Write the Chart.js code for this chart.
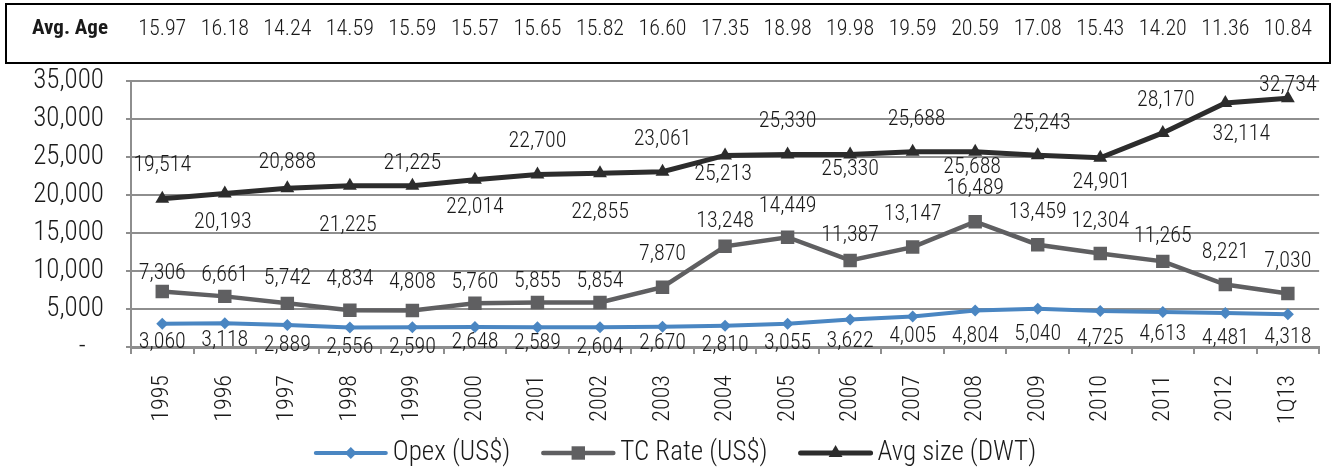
<!DOCTYPE html>
<html>
<head>
<meta charset="utf-8">
<script src="https://cdn.jsdelivr.net/npm/chart.js@4.4.1/dist/chart.umd.min.js"></script>
<style>
  html, body { margin: 0; padding: 0; background: #ffffff; }
  #wrap { width: 1338px; height: 470px; position: relative; }
</style>
</head>
<body>
<div id="wrap"><canvas id="chart" width="1338" height="470"></canvas></div>
<script>
// Period labels along the x axis
const periods = ['1995','1996','1997','1998','1999','2000','2001','2002','2003','2004',
                 '2005','2006','2007','2008','2009','2010','2011','2012','1Q13'];

// Operating expense per day (US$)
const opex = [3060, 3118, 2889, 2556, 2590, 2648, 2589, 2604, 2670, 2810,
              3055, 3622, 4005, 4804, 5040, 4725, 4613, 4481, 4318];

// Time-charter rate per day (US$)
const tcRate = [7306, 6661, 5742, 4834, 4808, 5760, 5855, 5854, 7870, 13248,
                14449, 11387, 13147, 16489, 13459, 12304, 11265, 8221, 7030];

// Average vessel size (DWT)
const avgSize = [19514, 20193, 20888, 21225, 21225, 22014, 22700, 22855, 23061, 25213,
                 25330, 25330, 25688, 25688, 25243, 24901, 28170, 32114, 32734];

// Average fleet age (years), shown in the header row
const avgAge = [15.97, 16.18, 14.24, 14.59, 15.59, 15.57, 15.65, 15.82, 16.60, 17.35,
                18.98, 19.98, 19.59, 20.59, 17.08, 15.43, 14.20, 11.36, 10.84];

// Y axis range
const yMin = 0, yMax = 35000, yStep = 5000;

// Vertical placement of each value label relative to its point (px)
const opexLabelDy = [19, 17, 20, 20, 20, 16, 16, 20, 17, 20, 20, 22, 20, 26, 26, 27, 23, 26, 23];
const tcLabelDy   = [-18, -21, -25, -31, -28, -21, -21, -21, -33, -25, -31, -25, -33, -33, -32, -32, -25, -32, -32];
const avgLabelDy  = [-33, 29, -26, 40, -22, 28, -33, 39, -32, 19, -33, 15, -32, 16, -32, 25, -32, 32, -13];
const avgLabelDx  = [0, -2, 0, -2, 0, 0, 0, 0, 0, -2, 0, 0, 4, -3, 4, 1, 3, 16, 0];

const FONT = '"Liberation Sans Narrow", "Arial Narrow", "Roboto Condensed", Arial, sans-serif';
const GRID = '#8e8e8e';
const TEXT = '#1a1a1a';

Chart.defaults.font.family = FONT;
Chart.defaults.font.weight = '300';
Chart.defaults.color = TEXT;

const fmt = v => v.toLocaleString('en-US');

// Value labels next to every point
const valueLabels = {
  id: 'valueLabels',
  afterDatasetsDraw(chart) {
    const ctx = chart.ctx;
    ctx.save();
    ctx.font = '300 22px ' + FONT;
    ctx.fillStyle = TEXT;
    ctx.textAlign = 'center';
    ctx.textBaseline = 'middle';
    chart.data.datasets.forEach((ds, i) => {
      const meta = chart.getDatasetMeta(i);
      meta.data.forEach((pt, j) => {
        const dy = ds.labelDy ? ds.labelDy[j] : -20;
        const dx = ds.labelDx ? ds.labelDx[j] : 0;
        ctx.fillText(fmt(ds.data[j]), pt.x + dx, pt.y + dy);
      });
    });
    ctx.restore();
  }
};

// Boxed "Avg. Age" row above the plot
const ageHeader = {
  id: 'ageHeader',
  afterDraw(chart) {
    const ctx = chart.ctx;
    const xs = chart.scales.x;
    ctx.save();
    ctx.strokeStyle = '#000000';
    ctx.lineWidth = 2;
    ctx.strokeRect(6, 4, 1324, 59);
    ctx.fillStyle = TEXT;
    ctx.textBaseline = 'middle';
    ctx.textAlign = 'left';
    ctx.font = 'bold 21px ' + FONT;
    ctx.fillText('Avg. Age', 32, 29);
    ctx.font = '300 22px ' + FONT;
    ctx.textAlign = 'center';
    avgAge.forEach((a, i) => {
      ctx.fillText(a.toFixed(2), xs.getPixelForValue(i), 29);
    });
    ctx.restore();
  }
};

function drawMarker(ctx, style, x, y, r) {
  ctx.beginPath();
  if (style === 'rectRot') {
    ctx.moveTo(x, y - r); ctx.lineTo(x + r, y); ctx.lineTo(x, y + r); ctx.lineTo(x - r, y);
  } else if (style === 'rect') {
    const s = Math.SQRT1_2 * r;
    ctx.rect(x - s, y - s, 2 * s, 2 * s);
  } else {
    ctx.moveTo(x, y - r);
    ctx.lineTo(x + r * Math.sin(2 * Math.PI / 3), y - r * Math.cos(2 * Math.PI / 3));
    ctx.lineTo(x + r * Math.sin(4 * Math.PI / 3), y - r * Math.cos(4 * Math.PI / 3));
  }
  ctx.closePath();
  ctx.fill();
}

// Legend: line sample with marker, then series name
const lineLegend = {
  id: 'lineLegend',
  afterDraw(chart) {
    const ctx = chart.ctx;
    const y = 453, lineLen = 70, gap = 7, itemGap = 33;
    ctx.save();
    ctx.font = '300 27px ' + FONT;
    const items = chart.data.datasets.map(ds => ({ ds, w: ctx.measureText(ds.label).width }));
    const total = items.reduce((s, it) => s + lineLen + gap + it.w, 0) + itemGap * (items.length - 1);
    let x = 676 - total / 2;
    items.forEach(({ ds, w }) => {
      ctx.strokeStyle = ds.borderColor;
      ctx.lineWidth = ds.borderWidth;
      ctx.lineCap = 'round';
      ctx.beginPath();
      ctx.moveTo(x, y); ctx.lineTo(x + lineLen, y);
      ctx.stroke();
      ctx.fillStyle = ds.pointBackgroundColor;
      drawMarker(ctx, ds.pointStyle, x + lineLen / 2, y, ds.pointRadius);
      ctx.fillStyle = TEXT;
      ctx.textAlign = 'left';
      ctx.textBaseline = 'middle';
      ctx.fillText(ds.label, x + lineLen + gap, y);
      x += lineLen + gap + w + itemGap;
    });
    ctx.restore();
  }
};

new Chart(document.getElementById('chart'), {
  type: 'line',
  data: {
    labels: periods,
    datasets: [
      {
        label: 'Opex (US$)',
        data: opex,
        borderColor: '#4a86c2',
        backgroundColor: '#4a86c2',
        pointBackgroundColor: '#4a86c2',
        pointBorderWidth: 0,
        borderWidth: 4,
        pointStyle: 'rectRot',
        pointRadius: 6,
        labelDy: opexLabelDy
      },
      {
        label: 'TC Rate (US$)',
        data: tcRate,
        borderColor: '#5f5f61',
        backgroundColor: '#5f5f61',
        pointBackgroundColor: '#5f5f61',
        pointBorderWidth: 0,
        borderWidth: 4.5,
        pointStyle: 'rect',
        pointRadius: 9.5,
        labelDy: tcLabelDy
      },
      {
        label: 'Avg size (DWT)',
        data: avgSize,
        borderColor: '#2c2c2c',
        backgroundColor: '#2c2c2c',
        pointBackgroundColor: '#2c2c2c',
        pointBorderWidth: 0,
        borderWidth: 5,
        pointStyle: 'triangle',
        pointRadius: 8,
        labelDy: avgLabelDy,
        labelDx: avgLabelDx
      }
    ]
  },
  options: {
    responsive: false,
    animation: false,
    events: [],
    layout: { padding: { top: 81, right: 13, left: 0, bottom: 0 } },
    plugins: { legend: { display: false }, tooltip: { enabled: false }, title: { display: false } },
    elements: { line: { tension: 0 } },
    scales: {
      x: {
        offset: true,
        grid: { drawOnChartArea: false, offset: true, tickLength: 7, color: GRID, lineWidth: 2 },
        border: { display: true, color: GRID, width: 3 },
        ticks: {
          autoSkip: false, minRotation: 90, maxRotation: 90, padding: 21,
          font: { size: 24, weight: '300' }, color: TEXT
        },
        afterFit(scale) { scale.height = 123; }
      },
      y: {
        min: yMin, max: yMax,
        grid: { color: GRID, lineWidth: 2, tickLength: 5 },
        border: { display: true, color: GRID, width: 2 },
        ticks: {
          stepSize: yStep, padding: 22, font: { size: 27, weight: '300' }, color: TEXT,
          callback: v => (v === 0 ? '-   ' : fmt(v))
        },
        afterFit(scale) { scale.width = 131; }
      }
    }
  },
  plugins: [valueLabels, ageHeader, lineLegend]
});
</script>
</body>
</html>
